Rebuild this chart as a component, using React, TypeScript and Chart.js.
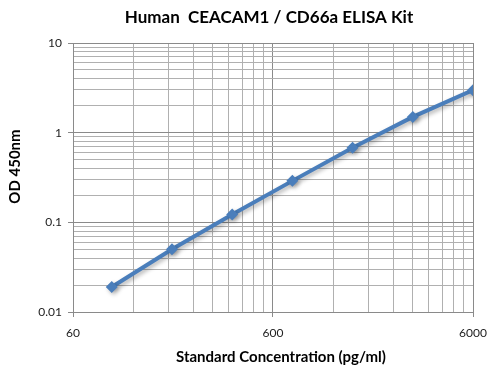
import React, { useEffect, useRef } from "react";
import { Chart, registerables } from "chart.js";

Chart.register(...registerables);

const concentrations = [93.75, 187.5, 375, 750, 1500, 3000, 6000];
const odValues = [0.019, 0.05, 0.122, 0.29, 0.68, 1.5, 2.98];

const xTickValues = [
  60, 120, 180, 240, 300, 360, 420, 480, 540,
  600, 1200, 1800, 2400, 3000, 3600, 4200, 4800, 5400, 6000,
];
const xTickLabels = ["60", "600", "6000"];

const yTickValues = [
  0.01, 0.02, 0.03, 0.04, 0.05, 0.06, 0.07, 0.08, 0.09,
  0.1, 0.2, 0.3, 0.4, 0.5, 0.6, 0.7, 0.8, 0.9,
  1, 2, 3, 4, 5, 6, 7, 8, 9, 10,
];
const yTickLabels = ["0.01", "0.1", "1", "10"];

const TITLE = "Human  CEACAM1 / CD66a ELISA Kit";
const X_TITLE = "Standard Concentration (pg/ml)";
const Y_TITLE = "OD 450nm";

const FONT = "Lato, 'Open Sans', sans-serif";
const LINE_COLOR = "#4a7ebb";
const MAJOR_GRID = "#8a8a8a";
const MINOR_GRID = "#b0b0b0";

function labelFor(value: number, labels: string[]): string {
  for (const l of labels) {
    if (Math.abs(parseFloat(l) - value) < 1e-9 * Math.max(1, value)) return l;
  }
  return "";
}

export default function App() {
  const ref = useRef<HTMLCanvasElement | null>(null);

  useEffect(() => {
    if (!ref.current) return;
    const shadowPlugin = {
      id: "shadow",
      beforeDatasetsDraw(chart: any) {
        const c = chart.ctx;
        c.save();
        c.shadowColor = "rgba(0,0,0,0.3)";
        c.shadowBlur = 4;
        c.shadowOffsetX = 2;
        c.shadowOffsetY = 2;
      },
      afterDatasetsDraw(chart: any) {
        chart.ctx.restore();
      },
    };
    const titlesPlugin = {
      id: "titles",
      afterDraw(chart: any) {
        const c = chart.ctx;
        const a = chart.chartArea;
        c.save();
        c.fillStyle = "#000";
        c.textAlign = "center";
        c.textBaseline = "middle";
        c.font = `bold 17px ${FONT}`;
        c.fillText(TITLE, (a.left + a.right) / 2 - 4, 18);
        c.font = `bold 15px ${FONT}`;
        c.fillText(X_TITLE, (a.left + a.right) / 2 + 8, 357);
        c.translate(15, (a.top + a.bottom) / 2 - 11);
        c.rotate(-Math.PI / 2);
        c.fillText(Y_TITLE, 0, 0);
        c.restore();
      },
    };
    const chart = new Chart(ref.current, {
      type: "line",
      data: {
        datasets: [
          {
            data: concentrations.map((x, i) => ({ x, y: odValues[i] })),
            borderColor: LINE_COLOR,
            backgroundColor: LINE_COLOR,
            borderWidth: 4,
            pointStyle: "rectRot",
            pointRadius: 6,
            pointBorderWidth: 0,
            tension: 0,
          },
        ],
      },
      plugins: [shadowPlugin, titlesPlugin],
      options: {
        responsive: false,
        animation: false,
        devicePixelRatio: 1,
        layout: { padding: { left: 0, right: 28, top: 43, bottom: 0 } },
        plugins: {
          legend: { display: false },
          tooltip: { enabled: false },
          title: { display: false },
        },
        scales: {
          x: {
            type: "logarithmic",
            min: 60,
            max: 6000,
            afterBuildTicks: (scale: any) => {
              scale.ticks = xTickValues.map((v) => ({ value: v }));
            },
            afterFit: (scale: any) => {
              scale.height = 56;
            },
            ticks: {
              autoSkip: false,
              maxRotation: 0,
              color: "#222",
              padding: 9,
              font: { family: FONT, size: 12 },
              callback: (v: any) => labelFor(Number(v), xTickLabels),
            },
            grid: {
              color: (ctx: any) =>
                ctx.tick && labelFor(ctx.tick.value, xTickLabels) ? MAJOR_GRID : MINOR_GRID,
              tickColor: (ctx: any) =>
                ctx.tick && labelFor(ctx.tick.value, xTickLabels) ? MAJOR_GRID : "rgba(0,0,0,0)",
              tickLength: 5,
              lineWidth: 1,
            },
            border: { color: MAJOR_GRID },
            title: { display: false },
          },
          y: {
            type: "logarithmic",
            min: 0.01,
            max: 10,
            afterBuildTicks: (scale: any) => {
              scale.ticks = yTickValues.map((v) => ({ value: v }));
            },
            afterFit: (scale: any) => {
              scale.width = 73;
            },
            ticks: {
              autoSkip: false,
              color: "#222",
              padding: 6,
              font: { family: FONT, size: 12 },
              callback: (v: any) => labelFor(Number(v), yTickLabels),
            },
            grid: {
              color: (ctx: any) =>
                ctx.tick && labelFor(ctx.tick.value, yTickLabels) ? MAJOR_GRID : MINOR_GRID,
              tickColor: (ctx: any) =>
                ctx.tick && labelFor(ctx.tick.value, yTickLabels) ? MAJOR_GRID : "rgba(0,0,0,0)",
              tickLength: 5,
              lineWidth: 1,
            },
            border: { color: MAJOR_GRID },
            title: { display: false },
          },
        },
      } as any,
    });
    return () => chart.destroy();
  }, []);

  return (
    <div style={{ position: "absolute", left: 0, top: 0, width: 501, height: 368, background: "#fff" }}>
      <canvas ref={ref} width={501} height={368} />
    </div>
  );
}
